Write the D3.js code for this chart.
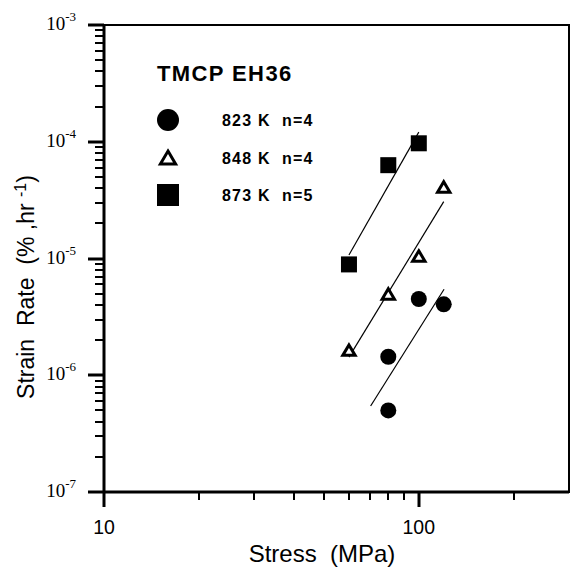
<!DOCTYPE html>
<html>
<head>
<meta charset="utf-8">
<script src="https://cdn.jsdelivr.net/npm/d3@7"></script>
<style>
  body { margin: 0; background: #fff; }
  svg { display: block; }
</style>
</head>
<body>
<svg width="570" height="575"></svg>
<script>
// data (stress in MPa, strain rate in %/hr)
var series = ["823 K  n=4", "848 K  n=4", "873 K  n=5"];
var shapes = ["circle", "triangle", "square"];

var stress823 = [80, 80, 100, 120];
var rate823 = [1.44e-6, 5.0e-7, 4.5e-6, 4.05e-6];
var stress848 = [60, 80, 100, 120];
var rate848 = [1.64e-6, 4.97e-6, 1.05e-5, 4.1e-5];
var stress873 = [60, 80, 100];
var rate873 = [8.9e-6, 6.3e-5, 9.7e-5];

// fitted lines, as end points
var fit823 = [[70.3, 5.45e-7], [120.3, 5.45e-6]];
var fit848 = [[60, 1.43e-6], [120, 3.07e-5]];
var fit873 = [[60, 1.07e-5], [100, 1.21e-4]];

var xMajor = [10, 100];
var xMinor = [20, 30, 40, 50, 60, 70, 80, 90, 200];
var yExponents = [-3, -4, -5, -6, -7];

var svg = d3.select("svg");
// plot box (note: "top" is taken by window.top, so use other names)
var pLeft = 104, pRight = 569, pTop = 25, pBottom = 492;

var x = d3.scaleLog().domain([10, 300]).range([pLeft, pRight]);
var y = d3.scaleLog().domain([1e-7, 1e-3]).range([pBottom, pTop]);

// minor ticks for y: 2..9 in every decade
var yMinor = [];
yExponents.slice(1).forEach(function(e) {
  for (var k = 2; k <= 9; k++) yMinor.push(k * Math.pow(10, e));
});

var axes = svg.append("g").attr("stroke", "#000").attr("fill", "none");

// frame
axes.append("rect")
  .attr("x", pLeft).attr("y", pTop)
  .attr("width", pRight - pLeft).attr("height", pBottom - pTop)
  .attr("stroke-width", 2);
// heavier left and bottom axis lines
axes.append("line").attr("x1", pLeft).attr("x2", pLeft).attr("y1", pTop).attr("y2", pBottom).attr("stroke-width", 3);
axes.append("line").attr("x1", pLeft).attr("x2", pRight).attr("y1", pBottom).attr("y2", pBottom).attr("stroke-width", 3);

// y ticks
axes.selectAll(".ymaj").data(yExponents).enter().append("line")
  .attr("x1", pLeft - 16).attr("x2", pLeft)
  .attr("y1", function(d) { return Math.round(y(Math.pow(10, d))); })
  .attr("y2", function(d) { return Math.round(y(Math.pow(10, d))); })
  .attr("stroke-width", 3);
axes.selectAll(".ymin").data(yMinor).enter().append("line")
  .attr("x1", pLeft - 9).attr("x2", pLeft)
  .attr("y1", function(d) { return Math.round(y(d)); })
  .attr("y2", function(d) { return Math.round(y(d)); })
  .attr("stroke-width", 2);

// x ticks
axes.selectAll(".xmaj").data(xMajor).enter().append("line")
  .attr("x1", function(d) { return Math.round(x(d)); })
  .attr("x2", function(d) { return Math.round(x(d)); })
  .attr("y1", pBottom).attr("y2", pBottom + 15)
  .attr("stroke-width", 3);
axes.selectAll(".xmin").data(xMinor).enter().append("line")
  .attr("x1", function(d) { return Math.round(x(d)); })
  .attr("x2", function(d) { return Math.round(x(d)); })
  .attr("y1", pBottom).attr("y2", pBottom + 8)
  .attr("stroke-width", 2);

// x tick labels
svg.selectAll(".xlab").data(xMajor).enter().append("text")
  .attr("x", function(d) { return x(d); })
  .attr("y", pBottom + 42)
  .attr("text-anchor", "middle")
  .attr("font-family", "Liberation Sans, Arial, sans-serif")
  .attr("font-size", 19.5)
  .text(function(d) { return d; });

// y tick labels, 10 with a superscript exponent
var ylab = svg.selectAll(".ylab").data(yExponents).enter().append("text")
  .attr("x", pLeft - 28)
  .attr("y", function(d) { return y(Math.pow(10, d)) + 5; })
  .attr("text-anchor", "end")
  .attr("font-family", "Liberation Serif, Times New Roman, serif")
  .attr("font-size", 19);
ylab.append("tspan").text("10");
ylab.append("tspan").attr("dy", -9).attr("font-size", 13)
  .text(function(d) { return d; });

// axis titles
svg.append("text")
  .attr("x", 322).attr("y", 562)
  .attr("text-anchor", "middle")
  .attr("font-family", "Liberation Sans, Arial, sans-serif")
  .attr("font-size", 24)
  .attr("xml:space", "preserve")
  .text("Stress  (MPa)");

var yt = svg.append("text")
  .attr("transform", "translate(34,287) rotate(-90)")
  .attr("text-anchor", "middle")
  .attr("font-family", "Liberation Sans, Arial, sans-serif")
  .attr("font-size", 23)
  .attr("xml:space", "preserve");
yt.append("tspan").text("Strain  Rate  (% ,hr ");
yt.append("tspan").attr("dy", -8).attr("font-size", 16).text("-1");
yt.append("tspan").attr("dy", 8).text(")");

// fitted lines
var line = d3.line().x(function(d) { return x(d[0]); }).y(function(d) { return y(d[1]); });
svg.selectAll(".fit").data([fit823, fit848, fit873]).enter().append("path")
  .attr("d", line)
  .attr("fill", "none")
  .attr("stroke", "#000")
  .attr("stroke-width", 1.2);

// symbol drawing
function drawMark(g, shape, cx, cy, size) {
  if (shape === "circle") {
    g.append("circle").attr("cx", cx).attr("cy", cy).attr("r", size / 2).attr("fill", "#000");
  } else if (shape === "square") {
    g.append("rect").attr("x", cx - size / 2).attr("y", cy - size / 2)
      .attr("width", size).attr("height", size).attr("fill", "#000");
  } else {
    var w = size * 0.95, h = size * 0.8;
    g.append("path")
      .attr("d", "M" + cx + "," + (cy - h / 2) + "L" + (cx + w / 2) + "," + (cy + h / 2) + "L" + (cx - w / 2) + "," + (cy + h / 2) + "Z")
      .attr("fill", "#fff").attr("stroke", "#000").attr("stroke-width", 3)
      .attr("stroke-linejoin", "miter");
  }
}

var marks = svg.append("g");
var sets = [[stress823, rate823], [stress848, rate848], [stress873, rate873]];
sets.forEach(function(s, i) {
  s[0].forEach(function(v, j) {
    drawMark(marks, shapes[i], x(v), y(s[1][j]), shapes[i] === "triangle" ? 13 : 16);
  });
});

// legend
var legend = svg.append("g");
legend.append("text")
  .attr("x", 157).attr("y", 81)
  .attr("font-family", "Liberation Sans, Arial, sans-serif")
  .attr("font-weight", "bold")
  .attr("font-size", 22)
  .attr("letter-spacing", 1.4)
  .text("TMCP EH36");

series.forEach(function(name, i) {
  var ly = 120 + i * 37.5;
  drawMark(legend, shapes[i], 168, ly, shapes[i] === "triangle" ? 16 : 22);
  legend.append("text")
    .attr("x", 222).attr("y", ly + 6)
    .attr("font-family", "Liberation Sans, Arial, sans-serif")
    .attr("font-weight", "bold")
    .attr("font-size", 16)
    .attr("letter-spacing", 1.2)
    .attr("xml:space", "preserve")
    .text(name);
});
</script>
</body>
</html>
